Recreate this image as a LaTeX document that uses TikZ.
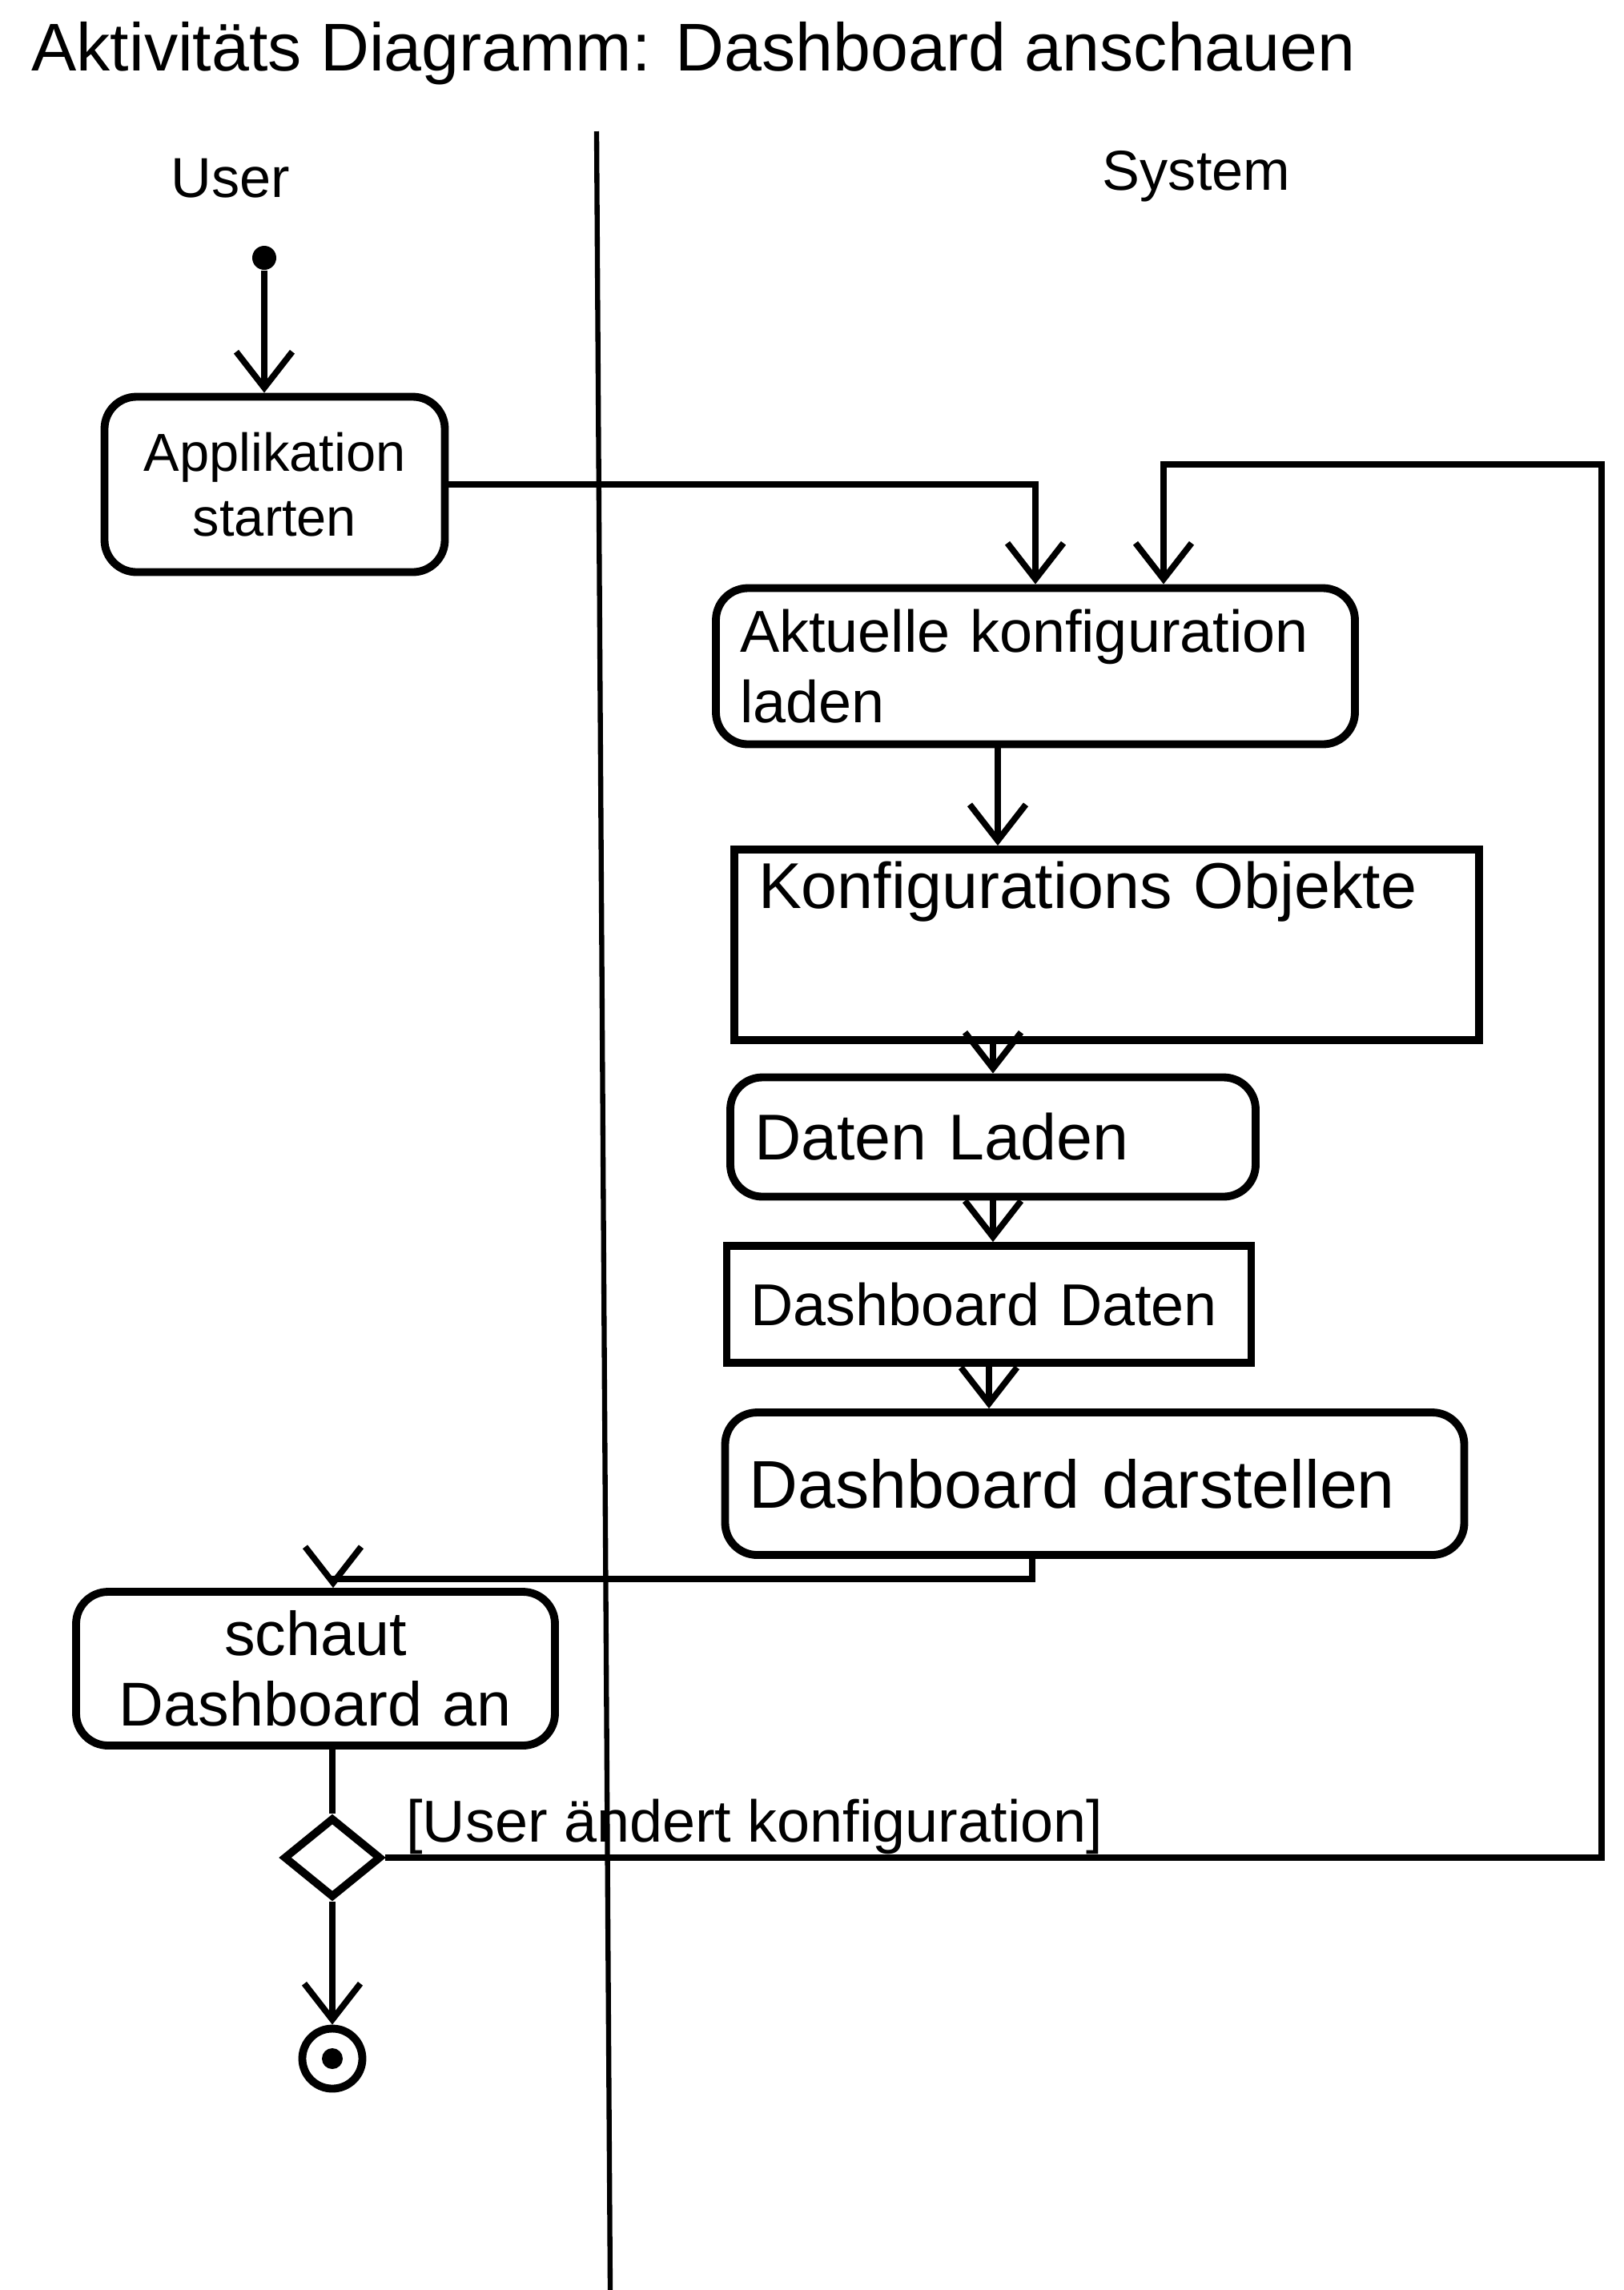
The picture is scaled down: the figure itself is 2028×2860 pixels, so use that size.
\documentclass[tikz,border=0pt]{standalone}
\usepackage{fontspec}
\setmainfont{Liberation Sans}
\usetikzlibrary{arrows.meta,positioning,shapes.geometric}

\begin{document}
\begin{tikzpicture}[
  x=0.1mm, y=-0.1mm,
  font=\fontsize{21}{25}\selectfont,
  act/.style={rectangle, rounded corners=4mm, draw, line width=2.8pt,
    inner xsep=3mm, inner ysep=1mm},
  obj/.style={rectangle, draw, line width=2.8pt, inner xsep=3mm, inner ysep=1mm},
  ar/.style={-{Straight Barb[length=4.5mm,width=7mm,line width=2.2pt]}, line width=2.2pt},
  lane/.style={line width=1.8pt}]
\useasboundingbox (0,0) rectangle (2028,2860);
\node[anchor=base west, font=\fontsize{24}{28}\selectfont] (titel) at (27,88) {Aktivitäts Diagramm: Dashboard anschauen};
\node[anchor=base, font=\fontsize{20}{24}\selectfont] (user) at (288,246) {User};
\node[anchor=base, font=\fontsize{20}{24}\selectfont] (system) at (1494,237) {System};
\draw[lane] (745,164) -- (762,2860);

\node[circle, fill, inner sep=0, minimum size=3mm] (start) at (330,322) {};
\node[act, text width=36.5mm, minimum height=21.9mm, align=center,
  font=\fontsize{19}{23}\selectfont] (app) at (343,605) {Applikation\\starten};
\node[act, text width=73.8mm, minimum height=19.5mm, align=left] (akt) at (1293,832) {Aktuelle konfiguration\\laden};
\node[obj, text width=87mm, align=left, font=\fontsize{23}{27}\selectfont,
  text height=5.8mm, text depth=15mm, inner ysep=1.5mm] (kobj) at (1382,1180) {Konfigurations Objekte};
\node[act, text width=59.6mm, minimum height=14.9mm, align=left,
  font=\fontsize{23}{27}\selectfont] (daten) at (1240,1420) {Daten Laden};
\node[obj, text width=59.5mm, minimum height=14.6mm, align=left] (dbdaten) at (1235,1629) {Dashboard Daten};
\node[act, text width=86.3mm, minimum height=17.8mm, align=left,
  font=\fontsize{24}{28}\selectfont] (darst) at (1367,1853) {Dashboard darstellen};
\node[act, text width=53.8mm, minimum height=19.2mm, align=center,
  font=\fontsize{22}{25}\selectfont] (schaut) at (394,2084) {schaut\\Dashboard an};
\node[diamond, draw, line width=2.8pt, inner sep=0, minimum width=12.2mm,
  minimum height=10mm] (raute) at (415,2320) {};
\node[anchor=base west] (guard) at (495,2300) {[User ändert konfiguration]};
\node[circle, draw, line width=2.8pt, inner sep=0, minimum size=7.5mm,
  path picture={\fill (path picture bounding box.center) circle (1.3mm);}] (ende) at (415,2571) {};
\coordinate (ro) at (2000,580);

\draw[ar] (start) -- (start |- app.north);
\draw[ar] (app.east) -| (akt.north);
\draw[ar] ([xshift=-4.7mm]akt.south) -- ([xshift=-4.7mm]akt.south |- kobj.north);
\draw[ar] (kobj.south -| daten.north) -- (daten.north);
\draw[ar] (daten.south) -- (daten.south |- dbdaten.north);
\draw[ar] (dbdaten.south) -- (dbdaten.south |- darst.north);
\draw[ar] ([xshift=-7.8mm]darst.south) -- ++(0,25) -| ([xshift=2.2mm]schaut.north);
\draw[line width=2.2pt] (raute.north |- schaut.south) -- (raute.north);
\draw[ar] (raute.south) -- (ende.north);
\draw[ar] (raute.east) -| (ro) -| ([xshift=16mm]akt.north);
\end{tikzpicture}
\end{document}
